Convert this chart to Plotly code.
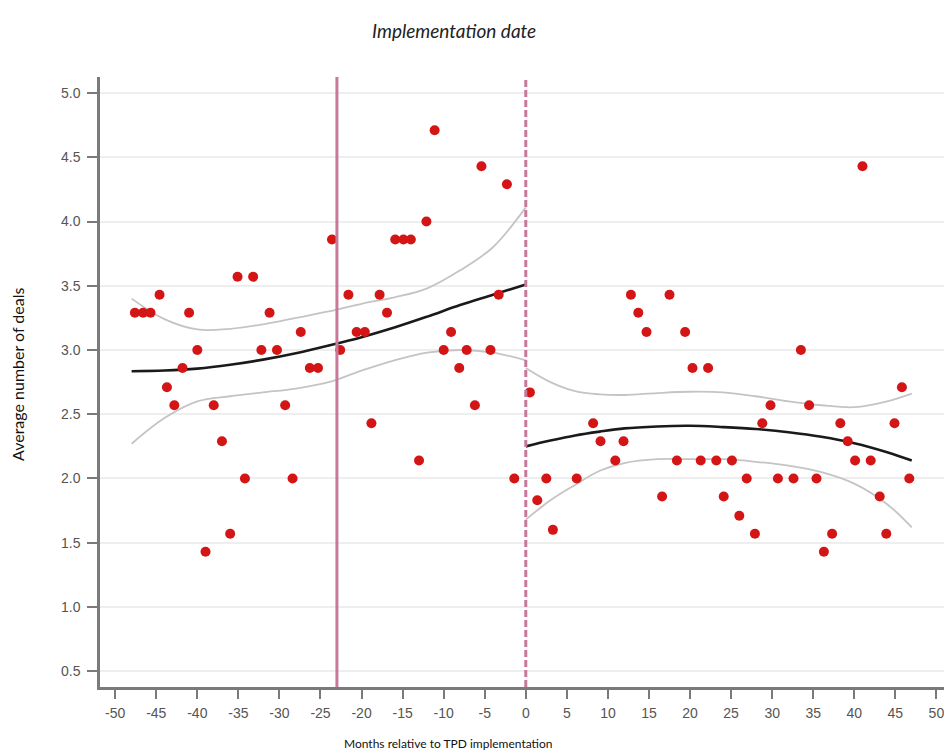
import plotly.graph_objects as go

# ---- data ----
months = [-47.6, -46.6, -45.7, -44.6, -43.7, -42.8, -41.8, -41.0, -40.0, -39.0,
          -38.0, -37.0, -36.0, -35.1, -34.2, -33.2, -32.2, -31.2, -30.3, -29.3,
          -28.4, -27.4, -26.3, -25.3, -23.6, -22.6, -21.6, -20.6, -19.6, -18.8,
          -17.8, -16.9, -15.9, -14.9, -14.0, -13.0, -12.1, -11.1, -10.0, -9.1,
          -8.1, -7.2, -6.2, -5.4, -4.3, -3.3, -2.3, -1.4,
          0.5, 1.4, 2.5, 3.3, 6.2, 8.2, 9.1, 10.9, 11.9, 12.8,
          13.7, 14.7, 16.6, 17.5, 18.4, 19.4, 20.3, 21.3, 22.2, 23.2,
          24.1, 25.1, 26.0, 26.9, 27.9, 28.8, 29.8, 30.7, 32.6, 33.5,
          34.5, 35.4, 36.3, 37.3, 38.3, 39.2, 40.1, 41.0, 42.0, 43.1,
          43.9, 44.9, 45.8, 46.7]
avg_deals = [3.29, 3.29, 3.29, 3.43, 2.71, 2.57, 2.86, 3.29, 3.00, 1.43,
             2.57, 2.29, 1.57, 3.57, 2.00, 3.57, 3.00, 3.29, 3.00, 2.57,
             2.00, 3.14, 2.86, 2.86, 3.86, 3.00, 3.43, 3.14, 3.14, 2.43,
             3.43, 3.29, 3.86, 3.86, 3.86, 2.14, 4.00, 4.71, 3.00, 3.14,
             2.86, 3.00, 2.57, 4.43, 3.00, 3.43, 4.29, 2.00,
             2.67, 1.83, 2.00, 1.60, 2.00, 2.43, 2.29, 2.14, 2.29, 3.43,
             3.29, 3.14, 1.86, 3.43, 2.14, 3.14, 2.86, 2.14, 2.86, 2.14,
             1.86, 2.14, 1.71, 2.00, 1.57, 2.43, 2.57, 2.00, 2.00, 3.00,
             2.57, 2.00, 1.43, 1.57, 2.43, 2.29, 2.14, 4.43, 2.14, 1.86,
             1.57, 2.43, 2.71, 2.00]

# fitted curve and confidence band, before implementation
pre_x = [-48, -44, -40, -36, -32, -28, -24, -20, -16, -12, -8, -4, 0]
pre_fit = [2.835, 2.84, 2.855, 2.885, 2.925, 2.975, 3.035, 3.10, 3.175, 3.26, 3.35, 3.43, 3.51]
pre_hi = [3.40, 3.24, 3.16, 3.165, 3.20, 3.25, 3.30, 3.36, 3.41, 3.48, 3.62, 3.80, 4.11]
pre_lo = [2.27, 2.47, 2.60, 2.64, 2.67, 2.70, 2.75, 2.84, 2.92, 2.98, 3.00, 2.98, 2.92]

# fitted curve and confidence band, after implementation
post_x = [0, 3, 6, 9, 12, 16, 20, 24, 28, 32, 36, 40, 44, 47]
post_fit = [2.25, 2.295, 2.335, 2.365, 2.39, 2.405, 2.41, 2.40, 2.385, 2.36, 2.325, 2.275, 2.205, 2.14]
post_hi = [2.86, 2.75, 2.68, 2.655, 2.65, 2.665, 2.675, 2.67, 2.64, 2.60, 2.57, 2.555, 2.60, 2.66]
post_lo = [1.68, 1.83, 1.95, 2.06, 2.12, 2.15, 2.15, 2.15, 2.13, 2.10, 2.05, 1.96, 1.80, 1.62]

announcement_month = -23
implementation_month = 0

x_ticks = list(range(-50, 55, 5))
y_ticks = [0.5, 1.0, 1.5, 2.0, 2.5, 3.0, 3.5, 4.0, 4.5, 5.0]

# ---- figure ----
CI_COLOR = "#c4c4c4"
FIT_COLOR = "#1a1a1a"
VLINE_COLOR = "#c8799a"

fig = go.Figure()

fig.add_shape(type="line", xref="x", yref="paper",
              x0=announcement_month, x1=announcement_month, y0=0, y1=1,
              line=dict(color=VLINE_COLOR, width=3))
fig.add_shape(type="line", xref="x", yref="paper",
              x0=implementation_month, x1=implementation_month, y0=0, y1=1,
              line=dict(color=VLINE_COLOR, width=3, dash="7px,3px"))

for xs, ys in [(pre_x, pre_hi), (pre_x, pre_lo), (post_x, post_hi), (post_x, post_lo)]:
    fig.add_trace(go.Scatter(x=xs, y=ys, mode="lines",
                             line=dict(color=CI_COLOR, width=1.8, shape="spline", smoothing=1.0),
                             hoverinfo="skip", showlegend=False))
for xs, ys in [(pre_x, pre_fit), (post_x, post_fit)]:
    fig.add_trace(go.Scatter(x=xs, y=ys, mode="lines",
                             line=dict(color=FIT_COLOR, width=2.6, shape="spline", smoothing=1.0),
                             hoverinfo="skip", showlegend=False))

fig.add_trace(go.Scatter(x=months, y=avg_deals, mode="markers",
                         marker=dict(color="#d41515", size=10, line=dict(width=0)),
                         showlegend=False))

tick_font = dict(family="Liberation Sans, Arial, sans-serif", size=14, color="#555555")

# the page body has an 8px margin, so the figure is sized 8px smaller
W, H = 944, 748
ML, MT, MB = 92, 69, 69
plot_w, plot_h = W - ML, H - MT - MB

fig.update_layout(
    width=W, height=H,
    margin=dict(l=ML, r=0, t=MT, b=MB, autoexpand=False),
    paper_bgcolor="white", plot_bgcolor="white",
    showlegend=False,
    xaxis=dict(range=[-51.85, 51.9], tickvals=x_ticks, ticktext=[str(v) for v in x_ticks],
               showgrid=False, zeroline=False, showline=True, linecolor="#7a7a7a", linewidth=2.5,
               ticks="outside", ticklen=9, tickwidth=1.5, tickcolor="#7a7a7a",
               tickfont=tick_font, automargin=False, ticklabelstandoff=2),
    yaxis=dict(range=[0.377, 5.125], tickvals=y_ticks, ticktext=[f"{v:.1f}" for v in y_ticks],
               showgrid=True, gridcolor="#eeeeee", gridwidth=2, zeroline=False,
               showline=True, linecolor="#7a7a7a", linewidth=2.5,
               ticks="outside", ticklen=10, tickwidth=1.5, tickcolor="#7a7a7a",
               tickfont=tick_font, automargin=False, ticklabelstandoff=4),
    annotations=[
        dict(text="<i>Implementation date</i>", xref="paper", yref="paper",
             x=(446 - ML) / plot_w, y=1.0, yshift=47, xanchor="center", yanchor="middle",
             showarrow=False,
             font=dict(family="Lato, sans-serif", size=19, color="#222222")),
        dict(text="Months relative to TPD implementation", xref="paper", yref="paper",
             x=(440 - ML) / plot_w, y=0, yshift=-56, xanchor="center", yanchor="middle",
             showarrow=False,
             font=dict(family="Lato, sans-serif", size=12, color="#111111")),
        dict(text="Average number of deals", xref="paper", yref="paper",
             x=0, xshift=-83, y=(H - MB - 367) / plot_h, xanchor="center", yanchor="middle",
             textangle=-90, showarrow=False,
             font=dict(family="Lato, sans-serif", size=16, color="#111111")),
    ],
)

fig.write_html("out.html")
